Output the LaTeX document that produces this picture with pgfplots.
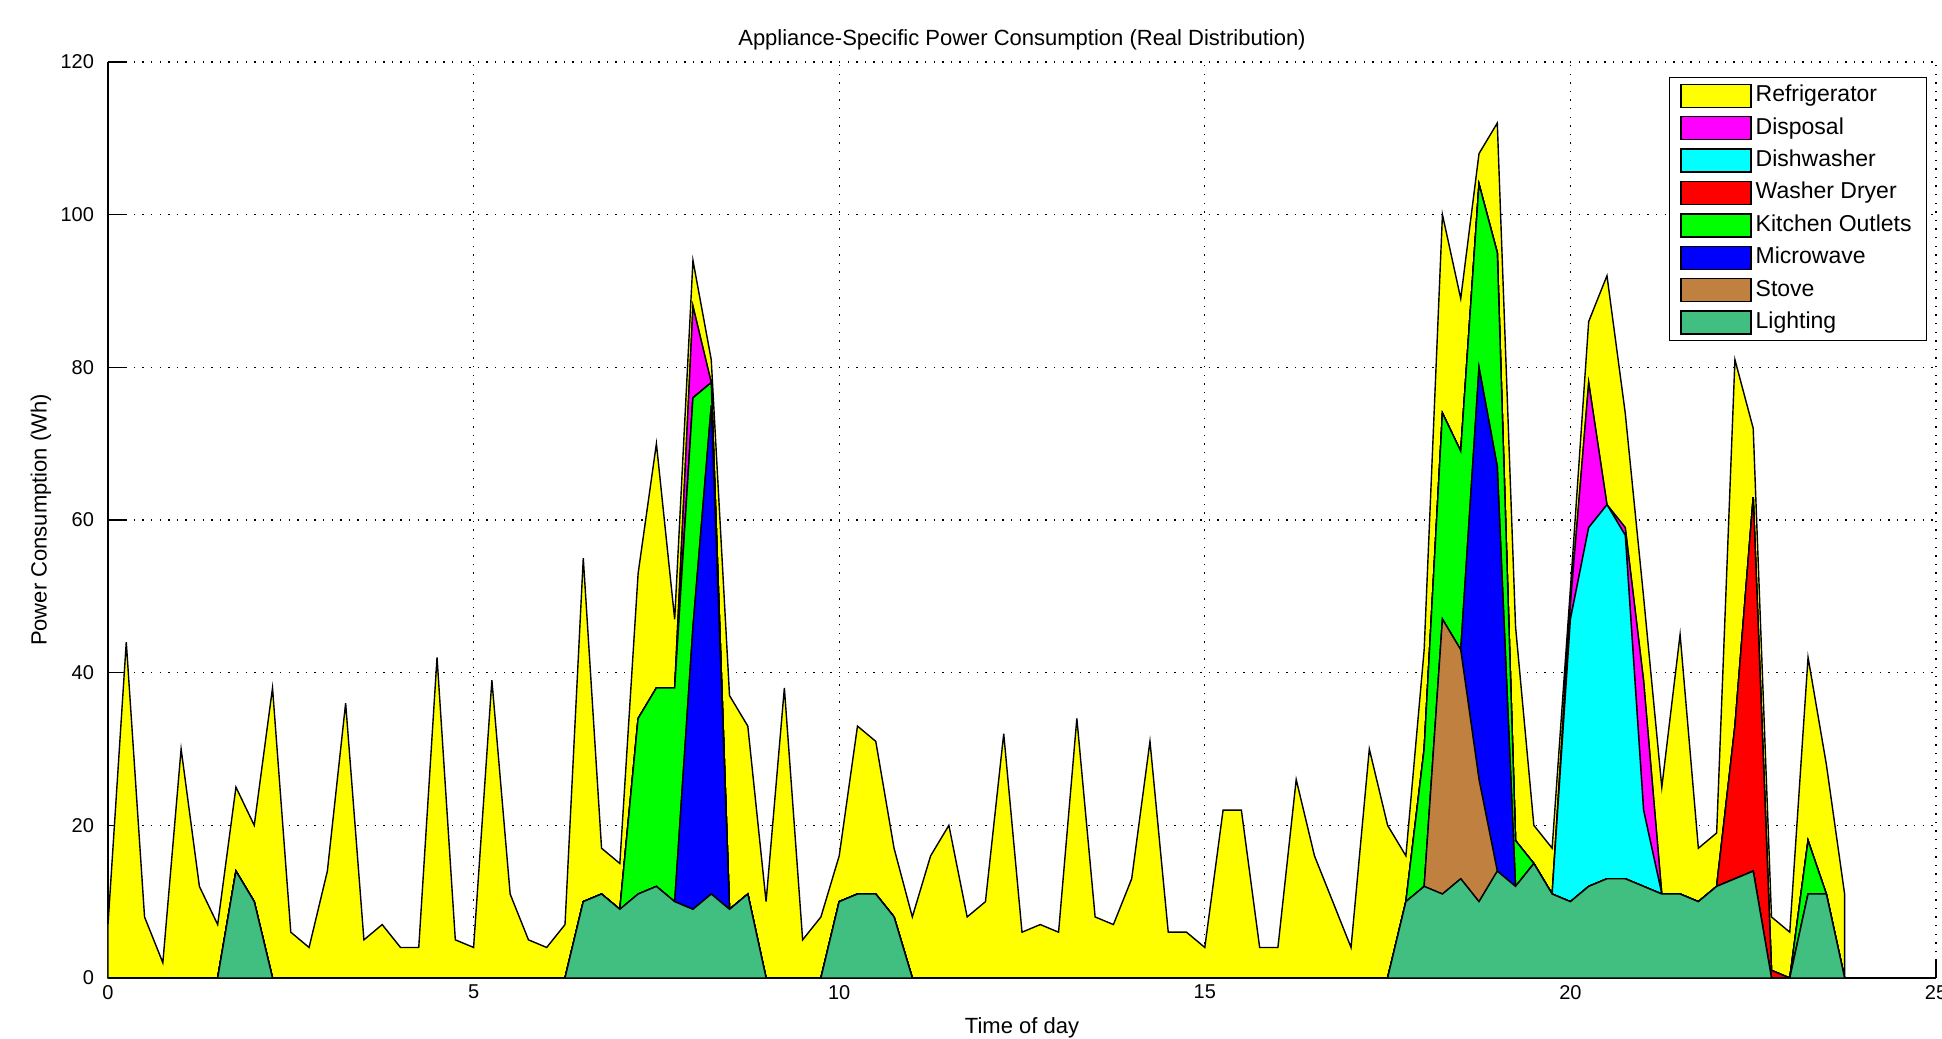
\documentclass[border=0pt]{standalone}
\usepackage{fontspec}
\setmainfont{Liberation Sans}
\usepackage{pgfplots}
\usepackage{pgfplotstable}
\pgfplotsset{compat=1.18}

\definecolor{cFridge}{RGB}{255,255,0}
\definecolor{cDisp}{RGB}{255,0,255}
\definecolor{cDish}{RGB}{0,255,255}
\definecolor{cWash}{RGB}{255,0,0}
\definecolor{cKitch}{RGB}{0,255,0}
\definecolor{cMicro}{RGB}{0,0,255}
\definecolor{cStove}{RGB}{191,128,64}
\definecolor{cLight}{RGB}{64,191,128}

% t = time of day (h); L Lighting, S Stove, M Microwave, K Kitchen Outlets,
% W Washer Dryer, D Dishwasher, P Disposal, R Refrigerator
\pgfplotstableread{
t     L  S  M  K  W  D  P  R
0.00  0  0  0  0  0  0  0  7
0.25  0  0  0  0  0  0  0  44
0.50  0  0  0  0  0  0  0  8
0.75  0  0  0  0  0  0  0  2
1.00  0  0  0  0  0  0  0  30
1.25  0  0  0  0  0  0  0  12
1.50  0  0  0  0  0  0  0  7
1.75  14 0  0  0  0  0  0  11
2.00  10 0  0  0  0  0  0  10
2.25  0  0  0  0  0  0  0  38
2.50  0  0  0  0  0  0  0  6
2.75  0  0  0  0  0  0  0  4
3.00  0  0  0  0  0  0  0  14
3.25  0  0  0  0  0  0  0  36
3.50  0  0  0  0  0  0  0  5
3.75  0  0  0  0  0  0  0  7
4.00  0  0  0  0  0  0  0  4
4.25  0  0  0  0  0  0  0  4
4.50  0  0  0  0  0  0  0  42
4.75  0  0  0  0  0  0  0  5
5.00  0  0  0  0  0  0  0  4
5.25  0  0  0  0  0  0  0  39
5.50  0  0  0  0  0  0  0  11
5.75  0  0  0  0  0  0  0  5
6.00  0  0  0  0  0  0  0  4
6.25  0  0  0  0  0  0  0  7
6.50  10 0  0  0  0  0  0  45
6.75  11 0  0  0  0  0  0  6
7.00  9  0  0  0  0  0  0  6
7.25  11 0  0  23 0  0  0  19
7.50  12 0  0  26 0  0  0  32
7.75  10 0  0  28 0  0  0  9
8.00  9  0  37 30 0  0  12 6
8.25  11 0  64 3  0  0  0  3
8.50  9  0  0  0  0  0  0  28
8.75  11 0  0  0  0  0  0  22
9.00  0  0  0  0  0  0  0  10
9.25  0  0  0  0  0  0  0  38
9.50  0  0  0  0  0  0  0  5
9.75  0  0  0  0  0  0  0  8
10.00 10 0  0  0  0  0  0  6
10.25 11 0  0  0  0  0  0  22
10.50 11 0  0  0  0  0  0  20
10.75 8  0  0  0  0  0  0  9
11.00 0  0  0  0  0  0  0  8
11.25 0  0  0  0  0  0  0  16
11.50 0  0  0  0  0  0  0  20
11.75 0  0  0  0  0  0  0  8
12.00 0  0  0  0  0  0  0  10
12.25 0  0  0  0  0  0  0  32
12.50 0  0  0  0  0  0  0  6
12.75 0  0  0  0  0  0  0  7
13.00 0  0  0  0  0  0  0  6
13.25 0  0  0  0  0  0  0  34
13.50 0  0  0  0  0  0  0  8
13.75 0  0  0  0  0  0  0  7
14.00 0  0  0  0  0  0  0  13
14.25 0  0  0  0  0  0  0  31
14.50 0  0  0  0  0  0  0  6
14.75 0  0  0  0  0  0  0  6
15.00 0  0  0  0  0  0  0  4
15.25 0  0  0  0  0  0  0  22
15.50 0  0  0  0  0  0  0  22
15.75 0  0  0  0  0  0  0  4
16.00 0  0  0  0  0  0  0  4
16.25 0  0  0  0  0  0  0  26
16.50 0  0  0  0  0  0  0  16
16.75 0  0  0  0  0  0  0  10
17.00 0  0  0  0  0  0  0  4
17.25 0  0  0  0  0  0  0  30
17.50 0  0  0  0  0  0  0  20
17.75 10 0  0  0  0  0  0  6
18.00 12 0  0  18 0  0  0  13
18.25 11 36 0  27 0  0  0  26
18.50 13 30 0  26 0  0  0  20
18.75 10 16 54 24 0  0  0  4
19.00 14 0  53 28 0  0  0  17
19.25 12 0  0  6  0  0  0  28
19.50 15 0  0  0  0  0  0  5
19.75 11 0  0  0  0  0  0  6
20.00 10 0  0  0  0  37 2  2
20.25 12 0  0  0  0  47 19 8
20.50 13 0  0  0  0  49 0  30
20.75 13 0  0  0  0  45 1  15
21.00 12 0  0  0  0  10 17 11
21.25 11 0  0  0  0  0  0  14
21.50 11 0  0  0  0  0  0  34
21.75 10 0  0  0  0  0  0  7
22.00 12 0  0  0  0  0  0  7
22.25 13 0  0  0  20 0  0  48
22.50 14 0  0  0  49 0  0  9
22.75 0  0  0  0  1  0  0  7
23.00 0  0  0  0  0  0  0  6
23.25 11 0  0  7  0  0  0  24
23.50 11 0  0  0  0  0  0  17
23.75 0  0  0  0  0  0  0  11
}\datatable

\begin{document}
\begin{tikzpicture}[x=1pt,y=1pt]
\useasboundingbox (-54,-30) rectangle (917,489);
\begin{axis}[
  scale only axis, width=914pt, height=458pt,
  xmin=0, xmax=25, ymin=0, ymax=120,
  xtick={0,5,...,25}, ytick={0,20,...,120},
  axis lines=left, axis line style={-, line width=0.6pt},
  tick align=inside, major tick length=9pt,
  tick style={black, line width=0.6pt},
  grid=major,
  grid style={black, line width=0.55pt, dash pattern=on 0.7pt off 3.6pt},
  /pgf/number format/assume math mode=true,
  ticklabel style={font=\fontsize{10}{12}\selectfont},
  yticklabel style={xshift=-3.5pt},
  title={Appliance-Specific Power Consumption (Real Distribution)},
  title style={font=\fontsize{11}{13}\selectfont, at={(axis description cs:0.5,1)}, anchor=base, yshift=2.3pt},
  xlabel={Time of day},
  xlabel style={font=\fontsize{11}{13}\selectfont, at={(axis description cs:0.5,0)}, anchor=base, yshift=-27.5pt},
  ylabel={Power Consumption (Wh)},
  ylabel style={font=\fontsize{11}{13}\selectfont, at={(axis description cs:-0.0367,0.5)}, anchor=center},
  stack plots=y,
  reverse legend,
  legend image code/.code={\draw[#1] (0pt,-5.75pt) rectangle (35pt,5.75pt);},
  legend cell align=left,
  legend style={at={(axis description cs:0.9951,0.9836)}, anchor=north east,
    draw=black, line width=0.6pt, fill=white,
    font=\fontsize{11.5}{13}\selectfont,
    inner xsep=5.5pt, inner ysep=3pt, row sep=4pt,
    nodes={inner xsep=1.9pt, inner ysep=0pt, text height=8.2pt, text depth=2.3pt}},
  every axis plot/.append style={draw=black, line width=0.7pt},
]
\addplot[fill=cLight, draw=black] table[x=t,y=L]{\datatable} \closedcycle;
\addlegendentry{Lighting}
\addplot[fill=cStove, draw=black] table[x=t,y=S]{\datatable} \closedcycle;
\addlegendentry{Stove}
\addplot[fill=cMicro, draw=black] table[x=t,y=M]{\datatable} \closedcycle;
\addlegendentry{Microwave}
\addplot[fill=cKitch, draw=black] table[x=t,y=K]{\datatable} \closedcycle;
\addlegendentry{Kitchen Outlets}
\addplot[fill=cWash, draw=black] table[x=t,y=W]{\datatable} \closedcycle;
\addlegendentry{Washer Dryer}
\addplot[fill=cDish, draw=black] table[x=t,y=D]{\datatable} \closedcycle;
\addlegendentry{Dishwasher}
\addplot[fill=cDisp, draw=black] table[x=t,y=P]{\datatable} \closedcycle;
\addlegendentry{Disposal}
\addplot[fill=cFridge, draw=black] table[x=t,y=R]{\datatable} \closedcycle;
\addlegendentry{Refrigerator}
\end{axis}
\end{tikzpicture}
\end{document}
